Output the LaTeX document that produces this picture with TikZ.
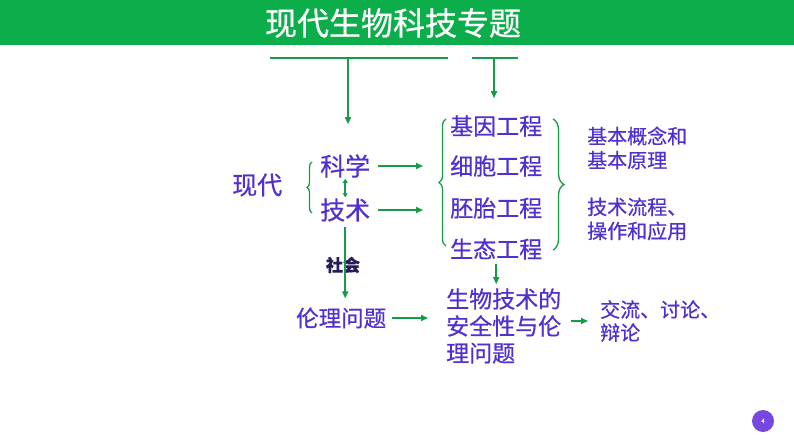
\documentclass[tikz,border=0pt]{standalone}
\usepackage{fontspec}
\setmainfont{Noto Sans CJK SC}[FakeBold=0.6]
\usepackage{tikz}
\usetikzlibrary{arrows.meta,decorations.pathreplacing}
\definecolor{bargreen}{RGB}{12,174,76}
\definecolor{linegreen}{RGB}{22,156,72}
\definecolor{txtpurple}{RGB}{80,48,206}
\definecolor{navyword}{RGB}{40,25,90}
\definecolor{pagepurple}{RGB}{118,72,226}

\begin{document}
\begin{tikzpicture}[x=1pt,y=-1pt]
  \tikzset{word/.style={text=txtpurple, inner sep=0pt, anchor=west, align=left, font=\fontsize{23}{27}\selectfont},
    bigword/.style={word, font=\fontsize{25}{29}\selectfont},
    smallword/.style={word, font=\fontsize{20}{24}\selectfont},
    gline/.style={draw=linegreen, line width=1.6pt},
    arr/.style={gline, -{Triangle[length=7pt,width=6pt]}},
    gbrace/.style={draw=linegreen, line width=1.3pt, decorate, decoration={brace, amplitude=#1}}}
  \useasboundingbox (0,0) rectangle (794,447);
  \fill[bargreen] (0,0) rectangle (794,45);
  \node[text=white, inner sep=0pt, font=\fontsize{32}{36}\selectfont] (title) at (393,23) {现代生物科技专题};
  \node[bigword] (xiandai) at (232,185) {现代};
  \node[bigword] (kexue) at (320,166) {科学};
  \node[bigword] (jishu) at (320,210) {技术};
  \node[word] (jiyin) at (450,126) {基因工程};
  \node[word] (xibao) at (450,166) {细胞工程};
  \node[word] (peitai) at (450,208) {胚胎工程};
  \node[word] (shengtai) at (450,249) {生态工程};
  \node[smallword] (gainian) at (587,148) {基本概念和\\基本原理};
  \node[smallword] (liucheng) at (587,219) {技术流程、\\操作和应用};
  \node[text=navyword, inner sep=0pt, font=\fontsize{17}{20}\selectfont\bfseries] (shehui) at (343,265) {社会};
  \node[word, font=\fontsize{22.5}{27}\selectfont] (lunli) at (296,318) {伦理问题};
  \node[word] (anquan) at (446,326) {生物技术的\\安全性与伦\\理问题};
  \node[smallword, font=\fontsize{20}{23}\selectfont] (jiaoliu) at (600,321) {交流、讨论、\\辩论};
  \node[circle, fill=pagepurple, minimum size=22pt, inner sep=0pt, text=white, font=\fontsize{6}{7}\selectfont] (page) at (763,421) {4};

  \coordinate (top1l) at (270,58);
  \coordinate (top1m) at (348,58);
  \coordinate (top1r) at (448,58);
  \coordinate (top2l) at (472,58);
  \coordinate (top2m) at (494,58);
  \coordinate (top2r) at (518,58);
  \draw[gline] (top1l) -- (top1r);
  \draw[gline] (top2l) -- (top2r);
  \draw[arr, shorten >=30pt] (top1m) -- (top1m |- kexue.north);
  \draw[arr, shorten >=17pt] (top2m) -- (top2m |- jiyin.north);

  \draw[gbrace=5] (312,213) -- (312,162);
  \draw[gbrace=7] (446,246) -- (446,119);
  \draw[gbrace=11] (553,119) -- (553,250);

  \draw[arr, shorten <=8pt, shorten >=27pt] (kexue.east) -- (kexue.east -| xibao.west);
  \draw[arr, shorten <=8pt, shorten >=27pt] (jishu.east) -- (jishu.east -| peitai.west);
  \draw[gline, {Triangle[length=4pt,width=5pt]}-{Triangle[length=4pt,width=5pt]}, shorten <=1pt, shorten >=1pt] (kexue.south) -- (jishu.north);
  \draw[arr, shorten <=5pt, shorten >=9pt] (jishu.south) -- (jishu.south |- lunli.north);
  \draw[arr, shorten <=4pt, shorten >=4pt] (shengtai.south) -- (shengtai.south |- anquan.north);
  \draw[arr, shorten <=6pt, shorten >=18pt] (lunli.east) -- (lunli.east -| anquan.west);
  \draw[arr, shorten <=10pt, shorten >=12pt] (anquan.east |- jiaoliu.west) -- (jiaoliu.west);
\end{tikzpicture}
\end{document}
